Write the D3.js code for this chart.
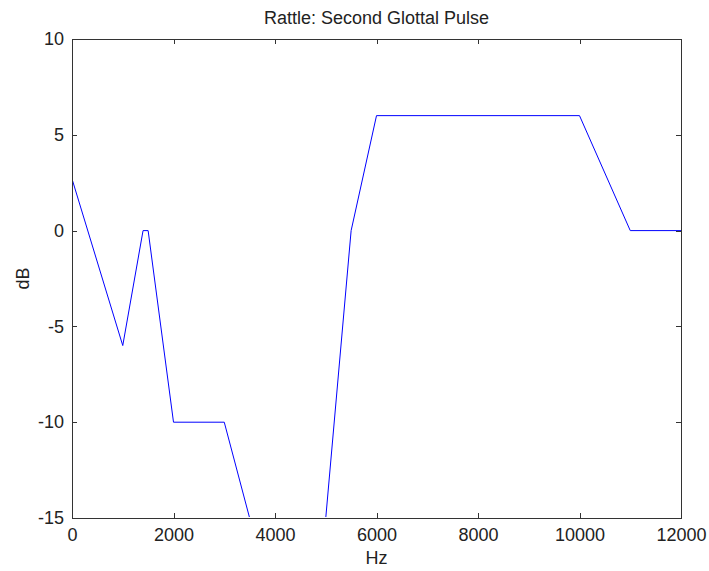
<!DOCTYPE html>
<html>
<head>
<meta charset="utf-8">
<script src="https://cdn.jsdelivr.net/npm/d3@7"></script>
<style>
    body { margin: 0; background: #fff; }
    text { font-family: "Liberation Sans", Arial, sans-serif; fill: #222; }
</style>
</head>
<body>
<svg class="chart"></svg>
<script>
// frequency (Hz) and level (dB) of the pulse envelope
var freqs = [0, 1000, 1400, 1500, 2000, 3000, 3500, 5000, 5500, 6000, 10000, 11000, 12000];
var levels = [2.7, -6, 0, 0, -10, -10, -15, -15, 0, 6, 6, 0, 0];
var xTicks = [0, 2000, 4000, 6000, 8000, 10000, 12000];
var yTicks = [-15, -10, -5, 0, 5, 10];

var width = 709,
    height = 571,
    margin = { top: 39, right: 28, bottom: 53, left: 72 },
    innerW = width - margin.left - margin.right,
    innerH = height - margin.top - margin.bottom,
    tickLen = 5,
    axisColor = '#333';

var points = freqs.map(function(f, i) {
    return { hz: f, db: levels[i] };
});

var xScale = d3.scaleLinear().domain([0, 12000]).range([0, innerW]);
var yScale = d3.scaleLinear().domain([-15, 10]).range([innerH, 0]);

var svg = d3.select('.chart')
    .attr('width', width)
    .attr('height', height);

var chart = svg.append('g')
    .attr('transform', 'translate(' + margin.left + ',' + margin.top + ')');

// the part lying on the lower limit is hidden under the axis
chart.append('clipPath')
    .attr('id', 'plot-clip')
    .append('rect')
    .attr('width', innerW + 1)
    .attr('height', innerH - 1);

// the line
var line = d3.line()
    .x(function(d) { return xScale(d.hz); })
    .y(function(d) { return yScale(d.db); });

chart.append('path')
    .datum(points)
    .attr('clip-path', 'url(#plot-clip)')
    .attr('fill', 'none')
    .attr('stroke', '#0000ff')
    .attr('stroke-width', 1)
    .attr('d', line);

// axes, ticks pointing inward on all four sides
var fmt = function(d) { return String(d); };
var xAxis = d3.axisBottom(xScale).tickValues(xTicks).tickFormat(fmt)
    .tickSizeInner(-tickLen).tickSizeOuter(0).tickPadding(10);
var xAxisTop = d3.axisTop(xScale).tickValues(xTicks).tickFormat('')
    .tickSizeInner(-tickLen).tickSizeOuter(0);
var yAxis = d3.axisLeft(yScale).tickValues(yTicks).tickFormat(fmt)
    .tickSizeInner(-tickLen).tickSizeOuter(0).tickPadding(8);
var yAxisRight = d3.axisRight(yScale).tickValues(yTicks).tickFormat('')
    .tickSizeInner(-tickLen).tickSizeOuter(0);

chart.append('g').attr('class', 'axis axis-x')
    .attr('transform', 'translate(0,' + innerH + ')')
    .call(xAxis);
chart.append('g').attr('class', 'axis axis-x-top')
    .call(xAxisTop);
chart.append('g').attr('class', 'axis axis-y')
    .call(yAxis);
chart.append('g').attr('class', 'axis axis-y-right')
    .attr('transform', 'translate(' + innerW + ',0)')
    .call(yAxisRight);

chart.selectAll('.axis path, .axis line')
    .attr('stroke', axisColor)
    .attr('shape-rendering', 'crispEdges');
chart.selectAll('.axis text')
    .style('font-size', '18px')
    .style('font-family', '"Liberation Sans", Arial, sans-serif')
    .attr('fill', '#222');

// title and labels
svg.append('text')
    .attr('x', margin.left + innerW / 2)
    .attr('y', 24)
    .attr('text-anchor', 'middle')
    .style('font-size', '18px')
    .text('Rattle: Second Glottal Pulse');

svg.append('text')
    .attr('x', margin.left + innerW / 2)
    .attr('y', 564)
    .attr('text-anchor', 'middle')
    .style('font-size', '18px')
    .text('Hz');

svg.append('text')
    .attr('transform', 'translate(' + 29 + ',' + (margin.top + innerH / 2) + ') rotate(-90)')
    .attr('text-anchor', 'middle')
    .style('font-size', '18px')
    .text('dB');
</script>
</body>
</html>
